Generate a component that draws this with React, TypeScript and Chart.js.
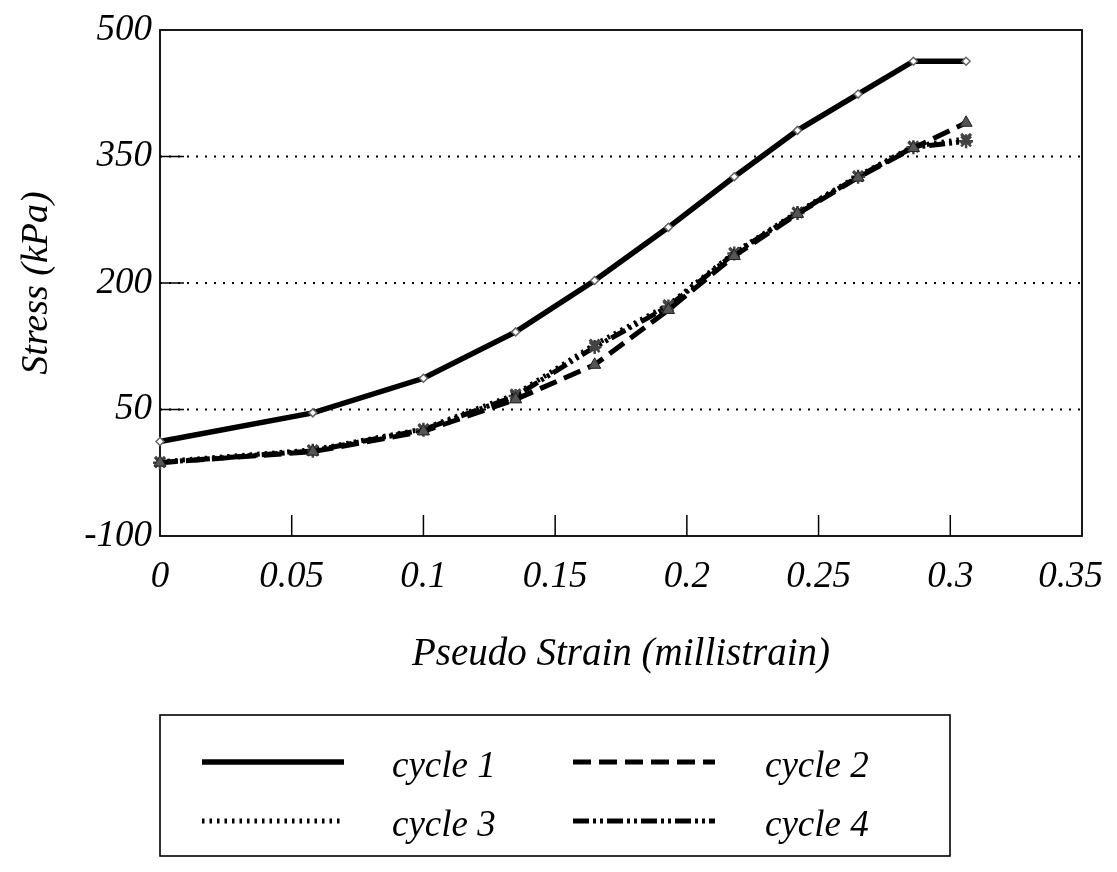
import React, { useEffect, useRef } from "react";
import { Chart, registerables } from "chart.js";

Chart.register(...registerables);

// ---- data ----
const strain = [0, 0.058, 0.1, 0.135, 0.165, 0.193, 0.218, 0.242, 0.265, 0.286, 0.306];
const cycle1 = [12, 46, 87, 142, 203, 266, 326, 381, 424, 463, 463];
const cycle2 = [-13, 0, 24, 62, 103, 168, 232, 282, 325, 360, 390];
const cycle3 = [-12, 2, 27, 68, 127, 174, 236, 284, 327, 362, 371];
const cycle4 = [-13, 1, 26, 66, 124, 172, 235, 283, 326, 361, 368];
const seriesLabels = ["cycle 1", "cycle 2", "cycle 3", "cycle 4"];

const xTickValues = [0, 0.05, 0.1, 0.15, 0.2, 0.25, 0.3, 0.35];
const xTickLabels = ["0", "0.05", "0.1", "0.15", "0.2", "0.25", "0.3", "0.35"];
const yTickValues = [-100, 50, 200, 350, 500];
const yTickLabels = ["-100", "50", "200", "350", "500"];
const gridValues = [50, 200, 350];

const xTitle = "Pseudo Strain (millistrain)";
const yTitle = "Stress (kPa)";

const FONT = '"Liberation Serif", "Times New Roman", serif';

const toPoints = (ys: number[]) => strain.map((x, i) => ({ x, y: ys[i] }));

const xLabelFor = (v: number) => {
  const i = xTickValues.findIndex((t) => Math.abs(t - v) < 1e-9);
  return i >= 0 ? xTickLabels[i] : "";
};

const framePlugin = {
  id: "frame",
  beforeDatasetsDraw(chart: any) {
    const { ctx, chartArea, scales } = chart;
    const { left, right, top, bottom } = chartArea;
    const y = scales.y;
    const x = scales.x;
    ctx.save();
    ctx.strokeStyle = "#000";
    // dotted gridlines
    ctx.lineWidth = 2;
    ctx.setLineDash([2, 7]);
    for (const v of gridValues) {
      const py = y.getPixelForValue(v);
      ctx.beginPath();
      ctx.moveTo(left, py);
      ctx.lineTo(right, py);
      ctx.stroke();
    }
    ctx.setLineDash([]);
    ctx.lineWidth = 1.5;
    // inward y ticks
    for (const v of gridValues) {
      const py = y.getPixelForValue(v);
      ctx.beginPath();
      ctx.moveTo(left, py);
      ctx.lineTo(left + 24, py);
      ctx.stroke();
    }
    // inward x ticks
    for (const v of xTickValues) {
      if (v === xTickValues[0] || v === xTickValues[xTickValues.length - 1]) continue;
      const px = x.getPixelForValue(v);
      ctx.beginPath();
      ctx.moveTo(px, bottom);
      ctx.lineTo(px, bottom - 21);
      ctx.stroke();
    }
    // frame
    ctx.lineWidth = 1.8;
    ctx.strokeRect(left, top, right - left, bottom - top);

    // x tick labels (kept inside the canvas, like the original's last label)
    ctx.font = `italic 37px ${FONT}`;
    ctx.fillStyle = "#000";
    ctx.textBaseline = "middle";
    ctx.textAlign = "left";
    for (const t of x.ticks) {
      const label = xLabelFor(t.value);
      const w = ctx.measureText(label).width;
      let lx = x.getPixelForValue(t.value) - w / 2;
      lx = Math.min(lx, chart.width - 6 - w);
      ctx.fillText(label, lx, bottom + 41);
    }
    ctx.restore();
  },
  afterDraw(chart: any) {
    const { ctx } = chart;
    const ds = chart.data.datasets;
    ctx.save();
    // legend box
    ctx.strokeStyle = "#000";
    ctx.lineWidth = 1.6;
    ctx.strokeRect(152, 707, 790, 141);
    const cols = [
      { lx: 194, tx: 384 },
      { lx: 565, tx: 757 },
    ];
    const rows = [754, 813];
    ctx.font = `italic 37px ${FONT}`;
    ctx.textBaseline = "middle";
    ctx.textAlign = "left";
    ctx.fillStyle = "#000";
    ds.forEach((d: any, i: number) => {
      const c = cols[i % 2];
      const r = rows[Math.floor(i / 2)];
      ctx.save();
      ctx.strokeStyle = d.borderColor;
      ctx.lineWidth = d.borderWidth;
      ctx.setLineDash(d.borderDash || []);
      ctx.beginPath();
      ctx.moveTo(c.lx, r);
      ctx.lineTo(c.lx + 142, r);
      ctx.stroke();
      ctx.restore();
      ctx.fillText(d.label, c.tx, r + 5);
    });
    ctx.restore();
  },
};

export default function App() {
  const ref = useRef<HTMLCanvasElement>(null);

  useEffect(() => {
    if (!ref.current) return;
    const chart = new Chart(ref.current, {
      type: "line",
      data: {
        datasets: [
          {
            label: seriesLabels[0],
            data: toPoints(cycle1),
            borderColor: "#000",
            borderWidth: 5.5,
            pointStyle: "rectRot",
            pointRadius: 4,
            pointBackgroundColor: "#fff",
            pointBorderColor: "#666",
            pointBorderWidth: 1.5,
            clip: false,
          },
          {
            label: seriesLabels[1],
            data: toPoints(cycle2),
            borderColor: "#000",
            borderWidth: 5,
            borderDash: [18, 8],
            pointStyle: "triangle",
            pointRadius: 7,
            pointBackgroundColor: "#555",
            pointBorderColor: "#222",
            pointBorderWidth: 1,
            clip: false,
          },
          {
            label: seriesLabels[2],
            data: toPoints(cycle3),
            borderColor: "#000",
            borderWidth: 5,
            borderDash: [2.5, 5],
            pointStyle: "crossRot",
            pointRadius: 7,
            pointBackgroundColor: "#555",
            pointBorderColor: "#444",
            pointBorderWidth: 3,
            clip: false,
          },
          {
            label: seriesLabels[3],
            data: toPoints(cycle4),
            borderColor: "#000",
            borderWidth: 5,
            borderDash: [16, 4, 3, 4, 3, 4],
            pointStyle: "star",
            pointRadius: 7,
            pointBackgroundColor: "#555",
            pointBorderColor: "#444",
            pointBorderWidth: 2.5,
            clip: false,
          },
        ],
      },
      options: {
        responsive: false,
        animation: false,
        layout: { padding: { left: 0, top: 22, right: 27, bottom: 176 } },
        plugins: {
          legend: { display: false },
          tooltip: { enabled: false },
        },
        elements: { line: { tension: 0 } },
        scales: {
          x: {
            type: "linear",
            min: 0,
            max: 0.35,
            afterBuildTicks: (scale: any) => {
              scale.ticks = xTickValues.map((v) => ({ value: v }));
            },
            ticks: {
              display: false,
              autoSkip: false,
              maxRotation: 0,
            },
            grid: { display: false, drawTicks: false },
            border: { display: false },
            title: {
              display: true,
              text: xTitle,
              color: "#000",
              padding: { top: 0, bottom: 10 },
              font: { family: FONT, size: 39, style: "italic" },
            },
            afterFit: (scale: any) => {
              scale.height = 152;
              scale.paddingLeft = 0;
              scale.paddingRight = 0;
            },
          },
          y: {
            type: "linear",
            min: -100,
            max: 500,
            afterBuildTicks: (scale: any) => {
              scale.ticks = yTickValues.map((v) => ({ value: v }));
            },
            ticks: {
              color: "#000",
              padding: 8,
              autoSkip: false,
              font: { family: FONT, size: 37, style: "italic" },
              callback: (v: any) => {
                const i = yTickValues.findIndex((t) => Math.abs(t - Number(v)) < 1e-9);
                return i >= 0 ? yTickLabels[i] : "";
              },
            },
            grid: { display: false, drawTicks: false },
            border: { display: false },
            title: {
              display: true,
              text: yTitle,
              color: "#000",
              padding: { top: 6, bottom: 0 },
              font: { family: FONT, size: 38, style: "italic" },
            },
            afterFit: (scale: any) => {
              scale.width = 152;
              scale.paddingTop = 0;
              scale.paddingBottom = 0;
            },
          },
        },
      },
      plugins: [framePlugin],
    } as any);
    return () => chart.destroy();
  }, []);

  return (
    <div style={{ width: 1101, height: 856 }}>
      <canvas ref={ref} width={1101} height={856} style={{ display: "block" }} />
    </div>
  );
}
